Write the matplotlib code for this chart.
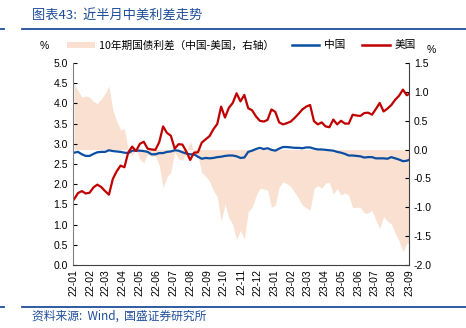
import matplotlib
matplotlib.use("Agg")
import matplotlib.pyplot as plt
import matplotlib.dates as mdates
from matplotlib.lines import Line2D
from matplotlib.patches import Patch
import numpy as np
import pandas as pd

plt.rcParams['font.family'] = ['Noto Sans CJK SC', 'DejaVu Sans']

# weekly (Monday) readings, 2022-01-03 .. 2023-09-04
us_10y = [
    # 2022
    1.63, 1.78, 1.83, 1.77, 1.79,        # Jan
    1.92, 1.99, 1.93, 1.83,              # Feb
    1.74, 2.13, 2.32, 2.46,              # Mar
    2.42, 2.79, 2.93, 2.82,              # Apr
    3.00, 3.05, 2.88, 2.86, 2.85,        # May
    3.04, 3.43, 3.27, 3.20,              # Jun
    2.88, 2.99, 2.98, 2.81,              # Jul
    2.60, 2.78, 2.79, 3.03, 3.11,        # Aug
    3.19, 3.36, 3.49, 3.92,              # Sep
    3.65, 3.89, 4.01, 4.25, 4.05,        # Oct
    4.21, 3.88, 3.83, 3.68,              # Nov
    3.57, 3.55, 3.59, 3.85,              # Dec
    # 2023
    3.79, 3.53, 3.48, 3.51, 3.55,        # Jan
    3.64, 3.74, 3.85, 3.92,              # Feb
    3.96, 3.56, 3.48, 3.53,              # Mar
    3.43, 3.41, 3.60, 3.48,              # Apr
    3.57, 3.50, 3.50, 3.72, 3.70,        # May
    3.69, 3.76, 3.77, 3.72,              # Jun
    3.86, 4.01, 3.80, 3.87, 3.96,        # Jul
    4.09, 4.19, 4.34, 4.20,              # Aug
    4.26,                                # Sep
]
cn_10y = [
    2.78, 2.80, 2.74, 2.70, 2.70,
    2.75, 2.79, 2.80, 2.80,
    2.84, 2.82, 2.81, 2.80,
    2.78, 2.77, 2.83, 2.83,
    2.83, 2.82, 2.80, 2.74, 2.74,
    2.77, 2.77, 2.80, 2.81,
    2.84, 2.83, 2.79, 2.76,
    2.74, 2.74, 2.68, 2.63, 2.65,
    2.64, 2.65, 2.67, 2.68,
    2.70, 2.71, 2.71, 2.69, 2.65,
    2.66, 2.80, 2.83, 2.87,
    2.90, 2.87, 2.89, 2.85,
    2.83, 2.88, 2.92, 2.92, 2.91,
    2.90, 2.90, 2.89, 2.91,
    2.91, 2.88, 2.86, 2.86,
    2.85, 2.84, 2.83, 2.80,
    2.78, 2.75, 2.71, 2.71, 2.70,
    2.69, 2.66, 2.67, 2.67,
    2.64, 2.64, 2.64, 2.63, 2.67,
    2.64, 2.61, 2.57, 2.58,
    2.62,
]
dates = pd.date_range('2022-01-03', '2023-09-04', freq='W-MON')
month_ticks = pd.date_range('2022-01-01', '2023-09-01', freq='MS')

us = np.array(us_10y)
cn = np.array(cn_10y)
spread = cn - us

blue = '#0B4EA2'
red = '#C00000'
peach = '#F9E0D1'
title_blue = '#1F4E9A'

fig = plt.figure(figsize=(4.66, 3.28), dpi=100)
ax = fig.add_axes([0.1567, 0.192, 0.721, 0.616])
ax2 = ax.twinx()

ax2.fill_between(dates, spread, 0, color=peach, lw=0)
ax2.set_ylim(-2.0, 1.5)
ax2.set_yticks(np.arange(-2.0, 1.51, 0.5))

ax.plot(dates, cn, color=blue, lw=1.6)
ax.plot(dates, us, color=red, lw=1.6)
ax.set_ylim(0, 5)
ax.set_yticks(np.arange(0, 5.01, 0.5))
ax.set_zorder(ax2.get_zorder() + 1)
ax.patch.set_visible(False)

ax.set_xlim(pd.Timestamp('2022-01-01'), pd.Timestamp('2023-09-01'))
ax.set_xticks(month_ticks)
ax.xaxis.set_major_formatter(mdates.DateFormatter('%y-%m'))

for a in (ax, ax2):
    a.spines['top'].set_visible(False)
    a.tick_params(axis='y', direction='in', length=3, labelsize=7.5, width=0.8)
    for lab in a.get_yticklabels():
        lab.set_family('Liberation Sans')
ax.tick_params(axis='x', length=0, labelsize=7.5, rotation=90, pad=3)
for lab in ax.get_xticklabels():
    lab.set_family('Liberation Sans')
ax.yaxis.set_major_formatter(matplotlib.ticker.FormatStrFormatter('%.1f'))
ax2.yaxis.set_major_formatter(matplotlib.ticker.FormatStrFormatter('%.1f'))
ax.spines['left'].set_color('#808080')
ax2.spines['left'].set_visible(False)
ax2.spines['right'].set_color('#404040')
ax.spines['right'].set_visible(False)
ax.spines['bottom'].set_color('#404040')
ax2.spines['bottom'].set_visible(False)

handles = [Patch(color=peach, lw=0), Line2D([], [], color=blue, lw=1.8),
           Line2D([], [], color=red, lw=1.8)]
labels = ['10年期国债利差（中国-美国，右轴）', '中国', '美国']
fig.legend(handles, labels, loc='center', bbox_to_anchor=(0.518, 0.862), ncol=3,
           frameon=False, fontsize=7.7, handlelength=2.6, handleheight=0.5,
           columnspacing=1.6, handletextpad=0.4)

fig.text(0.094, 0.86, '%', fontsize=7.5, ha='center', va='center', family='Liberation Sans')
fig.text(0.925, 0.848, '%', fontsize=7.5, ha='center', va='center', family='Liberation Sans')

fig.text(0.068, 0.951, '图表43:  近半月中美利差走势', fontsize=9.5, color=title_blue,
         style='italic', ha='left', va='center')
fig.text(0.068, 0.037, '资料来源:  Wind,  国盛证券研究所', fontsize=8.5, color=title_blue,
         style='italic', ha='left', va='center')

for yy in (0.9116, 0.0655):
    fig.add_artist(Line2D([0.047, 1.0], [yy, yy], color=title_blue, lw=1.3))
    fig.add_artist(Line2D([0.0, 0.009], [yy, yy], color=title_blue, lw=1.3))

fig.savefig('out.png', dpi=100)
